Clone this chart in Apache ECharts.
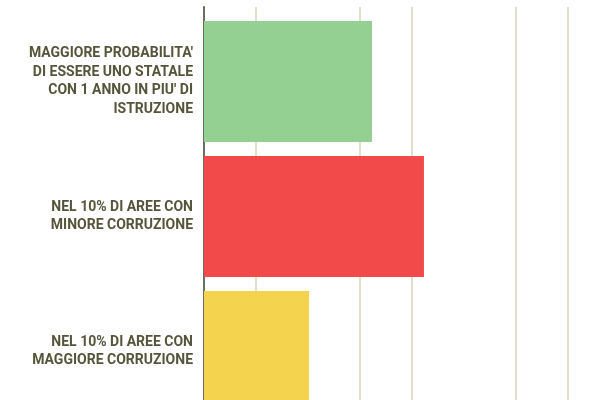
<!DOCTYPE html>
<html><head><meta charset="utf-8">
<script src="https://cdn.jsdelivr.net/npm/echarts@6/dist/echarts.min.js"></script>
<style>html,body{margin:0;padding:0;background:#fff;overflow:hidden}#c{width:600px;height:420px}</style>
</head><body><div id="c"></div>
<script>
const categories = [
  "MAGGIORE PROBABILITA'\nDI ESSERE UNO STATALE\nCON 1 ANNO IN PIU' DI\nISTRUZIONE",
  "NEL 10% DI AREE CON\nMINORE CORRUZIONE",
  "NEL 10% DI AREE CON\nMAGGIORE CORRUZIONE"
];
const values = [3.23, 4.23, 2.02];
const barColors = ['#94d092', '#f24a4a', '#f4d44f'];

const chart = echarts.init(document.getElementById('c'), null, {renderer: 'canvas'});
const lineC = '#d8d5bd';
chart.setOption({
  animation: false,
  grid: [
    {left: 204, right: 32, top: 7, height: 412},
    {left: 204, right: 32, top: 14, height: 405}
  ],
  xAxis: [
    {gridIndex: 0, type: 'value', min: 0, max: 7, interval: 1,
     axisLabel: {show: false}, axisTick: {show: false}, axisLine: {show: false},
     splitLine: {show: true, lineStyle: {width: 1.5,
       color: ['rgba(0,0,0,0)', lineC, 'rgba(0,0,0,0)', lineC, lineC, 'rgba(0,0,0,0)', lineC, lineC]}}},
    {gridIndex: 1, type: 'value', min: 0, max: 7, interval: 1,
     axisLabel: {show: false}, axisTick: {show: false}, axisLine: {show: false},
     splitLine: {show: false}}
  ],
  yAxis: [
    {gridIndex: 0, type: 'category', inverse: true, data: categories,
     axisLabel: {show: false}, axisTick: {show: false},
     axisLine: {show: true, lineStyle: {color: '#6e6e5e', width: 2}}},
    {gridIndex: 1, type: 'category', inverse: true, data: categories,
     axisTick: {show: false}, axisLine: {show: false},
     axisLabel: {margin: 11, color: '#55553a', fontFamily: 'Roboto', fontWeight: 'bold',
       fontSize: 14, lineHeight: 18.5, align: 'right'}}
  ],
  series: [{
    type: 'bar', xAxisIndex: 1, yAxisIndex: 1,
    data: values.map((v, i) => ({value: v, itemStyle: {color: barColors[i]}})),
    barWidth: 121
  }]
});
</script></body></html>
